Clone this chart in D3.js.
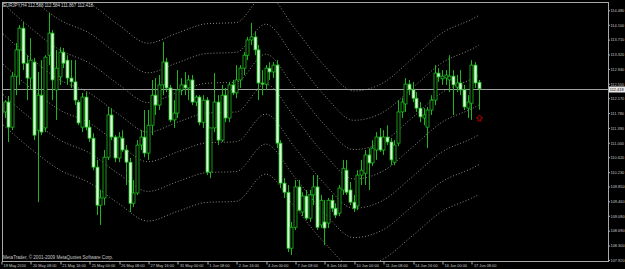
<!DOCTYPE html>
<html>
<head>
<meta charset="utf-8">
<script src="https://cdn.jsdelivr.net/npm/d3@7"></script>
<style>
  body { margin: 0; background: #000; }
  svg { display: block; }
  .axis text { fill: #c8c8c8; font-family: "Liberation Sans", Arial, sans-serif; font-size: 3.9px; }
  .axis line { stroke: #b0b0b0; }
</style>
</head>
<body>
<svg id="chart" width="625" height="269"></svg>
<script>
// header / footer texts
const chartTitle = 'EURJPY,H4  112.588 112.584 111.867 112.418';
const copyrightText = 'MetaTrader, \u00a9 2001-2009 MetaQuotes Software Corp.';

// H4 candles, 19 May 2010 00:00 .. 17 Jun 2010 16:00
const opens = [112.04,111.81,112.07,111.41,112.75,113.44,114.01,113.09,112.70,113.12,111.33,112.25,111.39,113.30,113.88,112.39,112.73,113.38,113.17,112.70,
  112.60,112.07,111.41,112.20,111.41,111.12,110.36,109.36,109.55,110.62,111.73,111.15,110.60,111.12,110.81,110.49,109.41,109.68,110.94,111.15,
  110.73,111.46,112.25,111.99,112.52,113.12,112.44,111.60,111.78,112.39,112.52,112.44,112.65,112.07,112.20,111.54,112.12,110.23,111.39,112.07,
  111.07,112.25,111.65,112.52,112.31,112.65,112.96,113.30,113.70,113.78,113.44,112.57,112.54,112.96,112.86,113.04,110.99,109.94,109.70,108.23,
  108.78,109.84,109.18,109.60,109.02,109.63,109.84,108.84,108.92,108.89,109.49,109.28,109.15,109.76,110.28,109.76,109.44,109.34,110.15,110.20,
  110.68,110.47,110.81,111.15,110.81,111.15,111.02,110.49,110.99,111.81,112.02,112.54,112.39,112.17,111.91,111.65,111.41,111.86,112.12,112.83,
  112.68,112.70,112.65,112.75,112.46,112.57,112.39,111.91,112.04,113.04,112.588];
const highs = [112.18,112.12,112.23,112.86,113.62,114.09,114.17,113.30,113.75,113.23,112.86,113.17,113.30,114.41,113.96,113.44,113.51,113.49,113.30,113.17,
  113.17,112.12,112.31,112.33,111.60,111.25,110.55,109.76,110.81,111.94,111.91,111.20,111.28,111.33,110.94,110.60,110.02,111.07,111.33,111.86,
  111.86,112.65,112.70,112.78,113.65,113.23,112.52,112.12,112.91,112.70,112.86,112.78,112.78,112.25,112.25,112.25,112.20,111.39,112.83,112.25,
  112.52,112.44,112.60,112.65,113.04,113.04,113.38,113.78,114.15,113.91,113.57,112.91,113.04,113.12,113.12,113.17,111.07,110.07,109.89,108.92,
  110.02,110.02,109.70,109.76,109.76,110.15,110.15,109.63,109.49,109.55,109.63,109.41,109.89,110.55,110.55,109.97,109.63,110.28,110.55,110.81,
  110.86,111.07,111.28,111.39,111.33,111.46,111.12,111.07,112.12,112.17,112.70,112.65,112.60,112.33,112.07,111.91,111.94,112.25,113.04,112.96,
  112.91,112.91,113.30,112.91,112.78,112.91,112.52,112.25,113.17,113.12,112.65];
const lows = [111.70,111.65,111.02,111.33,112.25,112.52,112.91,112.12,112.39,111.07,109.44,111.20,111.28,113.04,112.12,111.60,112.52,112.96,112.52,112.44,
  111.99,111.46,111.28,111.33,111.02,110.28,109.10,108.84,109.36,110.55,111.07,110.49,110.49,110.76,109.89,109.18,109.31,109.63,110.81,110.62,
  110.55,111.20,111.73,111.86,112.25,112.33,111.54,111.39,111.65,112.25,112.25,112.12,111.99,111.96,111.46,111.39,110.15,110.07,111.28,110.94,
  111.02,111.54,111.54,112.25,112.17,112.44,112.78,113.17,113.57,113.30,112.12,112.25,112.39,112.65,112.70,110.86,109.81,109.55,108.13,108.05,
  108.71,109.20,109.07,108.97,108.92,109.36,108.71,108.76,108.31,108.76,109.18,109.02,109.07,109.63,109.63,109.36,109.18,109.23,109.89,109.89,
  109.76,110.39,110.55,110.76,110.68,110.94,110.41,110.41,110.91,111.65,111.81,112.25,112.07,111.81,111.54,111.46,110.86,111.73,111.99,112.60,
  112.52,112.52,112.33,111.73,112.33,112.25,111.86,111.65,111.60,112.44,111.867];
const closes = [111.78,112.07,111.41,112.75,113.44,114.01,113.09,112.70,113.17,111.20,112.25,111.28,113.25,113.88,112.65,112.96,113.38,113.09,112.70,112.60,
  112.12,111.52,112.20,111.41,111.12,110.36,109.36,109.55,110.62,111.73,111.15,110.60,111.15,110.81,110.49,109.41,109.68,110.94,111.15,110.73,
  111.46,112.25,111.99,112.52,113.12,112.44,111.60,111.78,112.39,112.52,112.44,112.65,112.07,112.20,111.54,112.12,110.23,111.39,112.07,111.07,
  112.25,111.65,112.52,112.31,112.65,112.96,113.30,113.70,113.78,113.44,112.57,112.54,112.96,112.86,113.04,110.99,109.94,109.70,108.23,108.78,
  109.84,109.23,109.60,109.02,109.63,109.84,108.78,109.49,108.76,109.49,109.28,109.10,109.81,110.33,109.70,109.44,109.28,110.15,110.28,110.68,
  110.47,110.86,111.15,110.81,111.15,111.02,110.55,110.94,111.81,112.07,112.54,112.39,112.17,111.91,111.68,111.73,111.86,112.12,112.83,112.73,
  112.75,112.78,112.75,112.52,112.57,112.39,111.94,112.07,113.04,112.57,112.418];

// time axis labels and the bar each one sits on
const timeLabels = ['19 May 2010','20 May 08:00','21 May 16:00','25 May 00:00','26 May 08:00','27 May 16:00','31 May 00:00','1 Jun 08:00',
  '2 Jun 16:00','4 Jun 00:00','7 Jun 08:00','8 Jun 16:00','10 Jun 00:00','11 Jun 08:00','14 Jun 16:00','16 Jun 00:00','17 Jun 08:00'];
const timeLabelBars = [0,8,16,24,32,40,48,56,64,72,80,88,96,104,112,120,128];

// price scale labels
const priceTicks = [114.480,114.100,113.710,113.320,112.940,112.550,112.170,111.780,111.390,111.000,110.620,110.230,109.850,109.460,109.080,108.690,108.300,107.920];
const lastPrice = 112.418;

// envelope indicator: middle line read every 8 bars, band deviations in %
const bandBars = [0,8,16,24,32,40,48,56,64,72,80,88,96,104,112,120,128,130];
const bandMid = [113.91,113.23,112.65,112.31,111.75,111.28,111.54,111.78,111.81,112.54,111.65,110.70,110.05,110.26,110.89,111.54,111.89,111.99];
const bandPct = [-2.1,-1.4,-0.7,0,0.7,1.4,2.1];

// arrow object on the last bar
const arrowBar = 130;
const arrowPrice = 111.65;

const svg = d3.select('#chart');
svg.append('rect').attr('width', 625).attr('height', 269).attr('fill', '#000');

let plotLeft = 2, plotRight = 608, plotTop = 2, plotBottom = 261;

let x = d3.scaleLinear().domain([0, 130]).range([1, 478.75]);
let y = d3.scaleLinear().domain([107.894, 114.698]).range([plotBottom, plotTop]);
let px = (i) => Math.round(x(i)) + 0.5;

svg.append('clipPath').attr('id', 'plot-clip')
  .append('rect').attr('x', plotLeft).attr('y', plotTop).attr('width', plotRight - plotLeft).attr('height', plotBottom - plotTop);

let plot = svg.append('g').attr('clip-path', 'url(#plot-clip)');

// envelope lines
let bandLine = (pct) => d3.line()
  .x((d, i) => x(bandBars[i]))
  .y((d) => y(d * (1 + pct / 100)))
  .curve(d3.curveMonotoneX)(bandMid);

plot.selectAll('path.band').data(bandPct).enter().append('path')
  .attr('class', 'band')
  .attr('d', (p) => bandLine(p))
  .attr('fill', 'none')
  .attr('stroke', '#8c8c80')
  .attr('stroke-width', 1)
  .attr('stroke-dasharray', '1,2');

// last price line
let lp = Math.round(y(lastPrice)) + 0.5;
plot.append('line')
  .attr('x1', plotLeft).attr('x2', plotRight)
  .attr('y1', lp).attr('y2', lp)
  .attr('stroke', '#a0a0a0').attr('stroke-width', 1);

// candles
let candles = plot.selectAll('g.candle').data(d3.range(opens.length)).enter().append('g').attr('class', 'candle');

candles.append('line')
  .attr('x1', (i) => px(i)).attr('x2', (i) => px(i))
  .attr('y1', (i) => y(highs[i])).attr('y2', (i) => y(lows[i]))
  .attr('stroke', '#1fb51f').attr('stroke-width', 1);

candles.append('rect')
  .attr('x', (i) => px(i) - 1.5)
  .attr('width', 3)
  .attr('y', (i) => y(Math.max(opens[i], closes[i])))
  .attr('height', (i) => Math.max(1, Math.abs(y(opens[i]) - y(closes[i]))))
  .attr('fill', (i) => closes[i] < opens[i] ? '#d9ffd9' : '#000')
  .attr('stroke', '#22bb22')
  .attr('stroke-width', 0.8);

// arrow mark
plot.append('path')
  .attr('transform', `translate(${px(arrowBar)},${y(arrowPrice)})`)
  .attr('d', 'M0,-3 L3,0 L1.4,0 L1.4,3 L-1.4,3 L-1.4,0 L-3,0 Z')
  .attr('fill', 'none').attr('stroke', '#d00000').attr('stroke-width', 0.9);

// frame
svg.append('rect')
  .attr('x', plotLeft + 0.5).attr('y', plotTop + 0.5)
  .attr('width', plotRight - plotLeft).attr('height', plotBottom - plotTop)
  .attr('fill', 'none').attr('stroke', '#a8a8a8').attr('stroke-width', 1);

// price axis
let yAxis = svg.append('g').attr('class', 'axis')
  .attr('transform', `translate(${plotRight + 0.5},0)`)
  .call(d3.axisRight(y).tickValues(priceTicks).tickSize(1.5).tickPadding(0.5).tickFormat(d3.format('.3f')));
yAxis.select('.domain').remove();

// time axis
let xAxis = svg.append('g').attr('class', 'axis')
  .attr('transform', `translate(0,${plotBottom + 0.5})`)
  .call(d3.axisBottom(x).tickValues(timeLabelBars).tickSize(3).tickPadding(0)
    .tickFormat((d, i) => timeLabels[i]));
xAxis.select('.domain').remove();
xAxis.selectAll('.tick line').attr('transform', (d) => `translate(${px(d) - x(d)},0)`);
xAxis.selectAll('.tick text').attr('text-anchor', 'start').attr('dx', 2).attr('y', 2.4).attr('dy', '0.71em');

// last price box
svg.append('rect').attr('x', plotRight + 1).attr('y', lp - 3).attr('width', 16).attr('height', 6).attr('fill', '#e8e8e8');
svg.append('text').attr('x', plotRight + 1.8).attr('y', lp + 1.4)
  .attr('font-family', 'Liberation Sans, Arial, sans-serif').attr('font-size', 3.9).attr('fill', '#000')
  .text(d3.format('.3f')(lastPrice));

// title and copyright
svg.append('text').attr('x', 3).attr('y', 7.4)
  .attr('font-family', 'Liberation Sans, Arial, sans-serif').attr('font-size', 4.6).attr('fill', '#d0d0d0')
  .attr('textLength', 90).text(chartTitle);
svg.append('text').attr('x', 3).attr('y', 259)
  .attr('font-family', 'Liberation Sans, Arial, sans-serif').attr('font-size', 4.6).attr('fill', '#c8c8c8')
  .attr('textLength', 110).text(copyrightText);
</script>
</body>
</html>
